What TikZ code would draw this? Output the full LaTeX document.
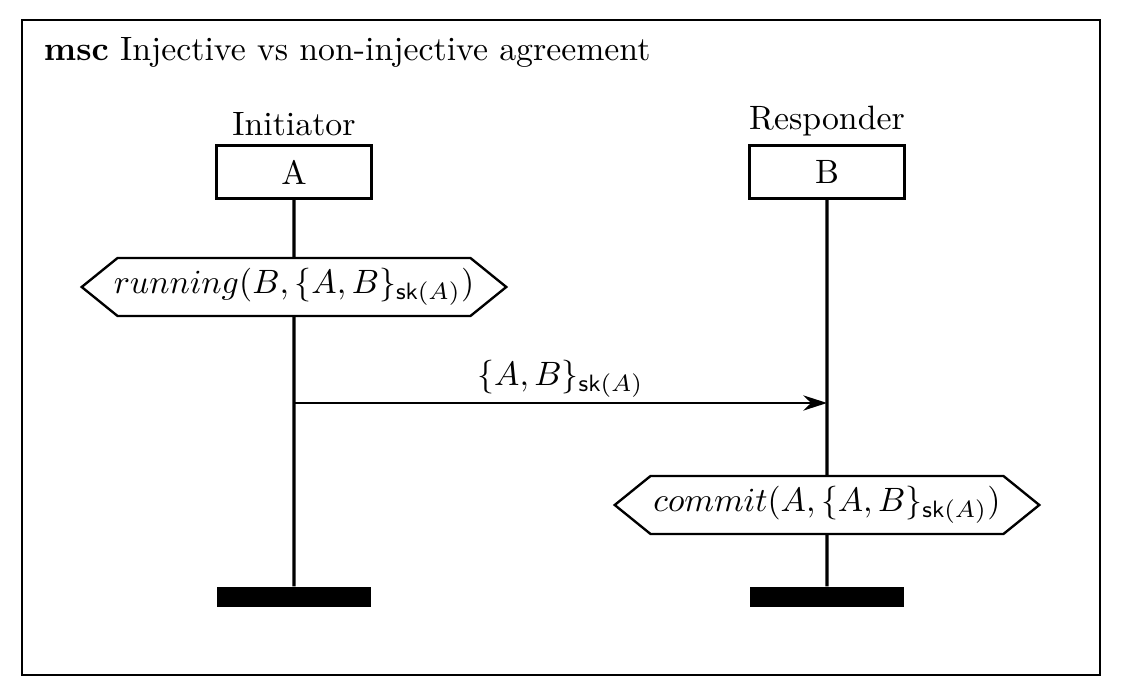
\documentclass[tikz,border=0pt]{standalone}
\usepackage{tikz}
\usetikzlibrary{positioning, shapes.symbols, arrows.meta}

\begin{document}
\begin{tikzpicture}[x=0.0104cm, y=-0.0104cm,
    instbox/.style={rectangle, draw, line width=0.7pt, minimum width=45.8pt, minimum height=15.7pt, inner sep=0pt},
    endbar/.style={rectangle, fill=black, minimum width=45.8pt, minimum height=5.9pt, inner sep=0pt},
    action/.style={signal, signal to=west and east, signal pointer angle=78, draw, fill=white, line width=0.7pt, minimum width=125.7pt, minimum height=17.2pt, inner xsep=-1.5pt, inner ysep=1pt},
    lifeline/.style={line width=1pt}]
  % Draw the frame
  \useasboundingbox (0,0) rectangle (1121,694);
  \draw [line width=0.6pt] (22,20) rectangle (1100,675);
  \node (title) [anchor=west] at (32,52) {\textbf{msc} Injective vs non-injective agreement};

  % Create the instances
  \node (initiator head) [instbox] at (294,172) {A};
  \node (initiator) [above=-1pt of initiator head] {Initiator};
  \node (initiator end) [endbar] at (294,597) {};

  \node (responder head) [instbox] at (827,172) {B};
  \node (responder) [above=-1pt of responder head] {Responder};
  \node (responder end) [endbar] at (827,597) {};

  % Create the actions
  \node (running) [action] at (294,287) {$running(B,\{A,B\}_{\mathsf{sk}(A)})$};
  \node (commit) [action] at (827,505) {$commit(A,\{A,B\}_{\mathsf{sk}(A)})$};

  \coordinate (send) at (294,403);
  \coordinate (recv) at (827,403);

  % Draw the lifelines
  \draw [lifeline] (initiator head) -- (running);
  \draw [lifeline] (running) -- (initiator end);
  \draw [lifeline] (responder head) -- (commit);
  \draw [lifeline] (commit) -- (responder end);

  % Draw the message
  \draw [-{Stealth[length=7pt, width=4.5pt]}, line width=0.6pt] (send) -- (recv) node [midway, above, inner sep=1.3pt] {$\{A,B\}_{\mathsf{sk}(A)}$};
\end{tikzpicture}
\end{document}
